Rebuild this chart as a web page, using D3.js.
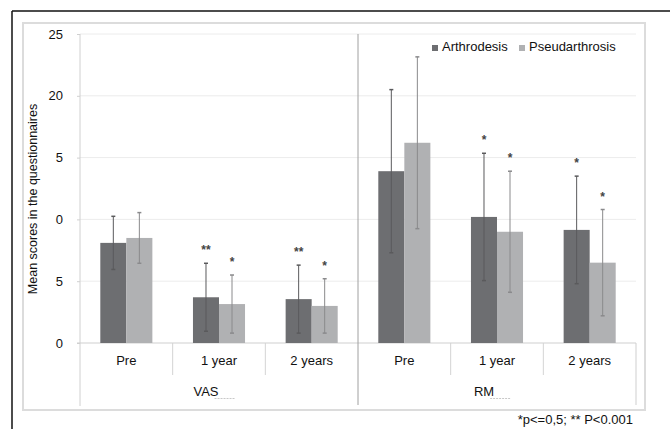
<!DOCTYPE html>
<html>
<head>
<meta charset="utf-8">
<script src="https://cdn.jsdelivr.net/npm/d3@7"></script>
<style>
  body { margin: 0; background: #fff; }
  svg { display: block; font-family: "Liberation Sans", Arial, sans-serif; }
</style>
</head>
<body>
<svg id="canvas" width="670" height="429"></svg>
<script>
// data
let groups = ['VAS', 'RM']
let timepoints = ['Pre', '1 year', '2 years']
let seriesNames = ['Arthrodesis', 'Pseudarthrosis']

let arthrodesisMean = [8.1, 3.7, 3.55, 13.9, 10.2, 9.15]
let arthrodesisSD   = [2.15, 2.75, 2.75, 6.6, 5.15, 4.35]
let pseudoMean      = [8.5, 3.15, 3.0, 16.2, 9.0, 6.5]
let pseudoSD        = [2.05, 2.35, 2.2, 6.95, 4.9, 4.3]
let arthrodesisStars = ['', '**', '**', '', '*', '*']
let pseudoStars      = ['', '*', '*', '', '*', '*']

let yTicks = [0, 5, 10, 15, 20, 25]
let yTickLabels = ['0', '5', '0', '5', '20', '25']
let footnote = '*p<=0,5; ** P<0.001'

let colors = ['#6d6e71', '#b0b1b3']

let canvas = d3.select('#canvas')

let plotLeft = 80
let plotRight = 636
let plotTop = 34
let baseY = 343

// category keys
let cats = []
groups.forEach((g) => {
    timepoints.forEach((t) => {
        cats.push(g + '|' + t)
    })
})

let xScale = d3.scaleBand().domain(cats).range([plotLeft, plotRight]).padding(0)
let xInner = d3.scaleBand().domain(seriesNames).range([0, xScale.bandwidth()])
               .paddingInner(0).paddingOuter(0.78)
let yScale = d3.scaleLinear().domain([0, 25]).range([baseY, plotTop])

// outer black border (top + left)
canvas.append('line').attr('x1', 12).attr('x2', 670).attr('y1', 11).attr('y2', 11)
      .attr('stroke', '#111').attr('stroke-width', 1.5)
canvas.append('line').attr('x1', 12).attr('x2', 12).attr('y1', 11).attr('y2', 429)
      .attr('stroke', '#111').attr('stroke-width', 1.5)

// chart frame
canvas.append('rect').attr('x', 23).attr('y', 23).attr('width', 622).attr('height', 387)
      .attr('fill', 'none').attr('stroke', '#dcdcdc').attr('stroke-width', 2)

// gridlines
canvas.append('g').selectAll('line').data(yTicks.filter(d => d > 0)).enter().append('line')
      .attr('x1', plotLeft).attr('x2', plotRight)
      .attr('y1', d => yScale(d)).attr('y2', d => yScale(d))
      .attr('stroke', '#ececec').attr('stroke-width', 1)

// y axis
let yAxis = d3.axisLeft(yScale).tickValues(yTicks).tickSize(3).tickPadding(14)
              .tickFormat((d, i) => yTickLabels[i])
let yAxisG = canvas.append('g').attr('transform', 'translate(' + plotLeft + ',0)').call(yAxis)
yAxisG.select('.domain').remove()
yAxisG.selectAll('.tick line').attr('stroke', '#d0d0d0')
yAxisG.selectAll('.tick text').attr('font-size', 13).attr('fill', '#111')
      .attr('font-family', '"Liberation Sans", Arial, sans-serif')
canvas.append('line').attr('x1', plotLeft).attr('x2', plotLeft).attr('y1', plotTop).attr('y2', 406)
      .attr('stroke', '#d0d0d0')

// category axis
canvas.append('line').attr('x1', plotLeft - 3).attr('x2', plotRight).attr('y1', baseY).attr('y2', baseY)
      .attr('stroke', '#cfcfcf')
canvas.append('line').attr('x1', plotRight).attr('x2', plotRight).attr('y1', baseY).attr('y2', 405)
      .attr('stroke', '#cfcfcf')
let sepCats = cats.filter((c, i) => i % 3 !== 0)
canvas.append('g').selectAll('line').data(sepCats).enter().append('line')
      .attr('x1', c => xScale(c)).attr('x2', c => xScale(c))
      .attr('y1', baseY).attr('y2', 375)
      .attr('stroke', '#d4d4d4')
// separator between the two questionnaires
canvas.append('line').attr('x1', xScale('RM|Pre')).attr('x2', xScale('RM|Pre'))
      .attr('y1', plotTop).attr('y2', 405)
      .attr('stroke', '#a0a0a0')

// bars
let rows = []
cats.forEach((c, i) => {
    rows.push({cat: c, s: 0, mean: arthrodesisMean[i], sd: arthrodesisSD[i], star: arthrodesisStars[i]})
    rows.push({cat: c, s: 1, mean: pseudoMean[i], sd: pseudoSD[i], star: pseudoStars[i]})
})
let barX = (d) => xScale(d.cat) + xInner(seriesNames[d.s])
let barMid = (d) => barX(d) + xInner.bandwidth() / 2

canvas.append('g').selectAll('rect').data(rows).enter().append('rect')
      .attr('x', barX)
      .attr('y', d => yScale(d.mean))
      .attr('width', xInner.bandwidth())
      .attr('height', d => baseY - yScale(d.mean))
      .attr('fill', d => colors[d.s])

// error bars
let err = canvas.append('g').selectAll('g').data(rows).enter().append('g')
err.append('line')
   .attr('x1', barMid).attr('x2', barMid)
   .attr('y1', d => yScale(d.mean + d.sd)).attr('y2', d => yScale(d.mean - d.sd))
   .attr('stroke', d => d.s === 0 ? '#5a5a5c' : '#8a8a8c').attr('stroke-width', 1)
err.selectAll('.cap').data(d => [[d, d.mean + d.sd], [d, d.mean - d.sd]]).enter().append('line')
   .attr('x1', p => barMid(p[0]) - 2).attr('x2', p => barMid(p[0]) + 2)
   .attr('y1', p => yScale(p[1])).attr('y2', p => yScale(p[1]))
   .attr('stroke', p => p[0].s === 0 ? '#5a5a5c' : '#8a8a8c').attr('stroke-width', 1.5)

// significance stars
canvas.append('g').selectAll('text').data(rows.filter(d => d.star)).enter().append('text')
      .attr('x', barMid)
      .attr('y', d => yScale(d.mean + d.sd) - 9)
      .attr('text-anchor', 'middle')
      .attr('font-size', 12).attr('font-weight', 'bold').attr('fill', '#444')
      .text(d => d.star)

// timepoint labels
canvas.append('g').selectAll('text').data(cats).enter().append('text')
      .attr('x', c => xScale(c) + xScale.bandwidth() / 2)
      .attr('y', 365)
      .attr('text-anchor', 'middle')
      .attr('font-size', 13).attr('fill', '#111')
      .text(c => c.split('|')[1])

// questionnaire labels
groups.forEach((g) => {
    let x0 = xScale(g + '|Pre')
    let x1 = xScale(g + '|2 years') + xScale.bandwidth()
    let cx = (x0 + x1) / 2 - 13
    let t = canvas.append('text')
          .attr('x', cx).attr('y', 396)
          .attr('text-anchor', 'middle')
          .attr('font-size', 13).attr('fill', '#111')
          .text(g)
    let w = t.node().getComputedTextLength()
    canvas.append('line')
          .attr('x1', cx + w / 2 - 4).attr('x2', cx + w / 2 + 17)
          .attr('y1', 398.5).attr('y2', 398.5)
          .attr('stroke', '#c8c8c8').attr('stroke-dasharray', '2,1')
})

// y axis title
canvas.append('text')
      .attr('transform', 'translate(37,' + 199 + ') rotate(-90)')
      .attr('text-anchor', 'middle')
      .attr('font-size', 12.5).attr('fill', '#111')
      .text('Mean scores in the questionnaires')

// legend
let legendX = [432, 519]
let legend = canvas.append('g').selectAll('g').data(seriesNames).enter().append('g')
      .attr('transform', (d, i) => 'translate(' + legendX[i] + ',45)')
legend.append('rect').attr('width', 6).attr('height', 6).attr('fill', (d, i) => colors[i])
legend.append('text').attr('x', 10).attr('y', 6)
      .attr('font-size', 13).attr('fill', '#111')
      .text(d => d)

// footnote
canvas.append('text')
      .attr('x', 633).attr('y', 424)
      .attr('text-anchor', 'end')
      .attr('font-size', 13).attr('fill', '#111')
      .text(footnote)
</script>
</body>
</html>
